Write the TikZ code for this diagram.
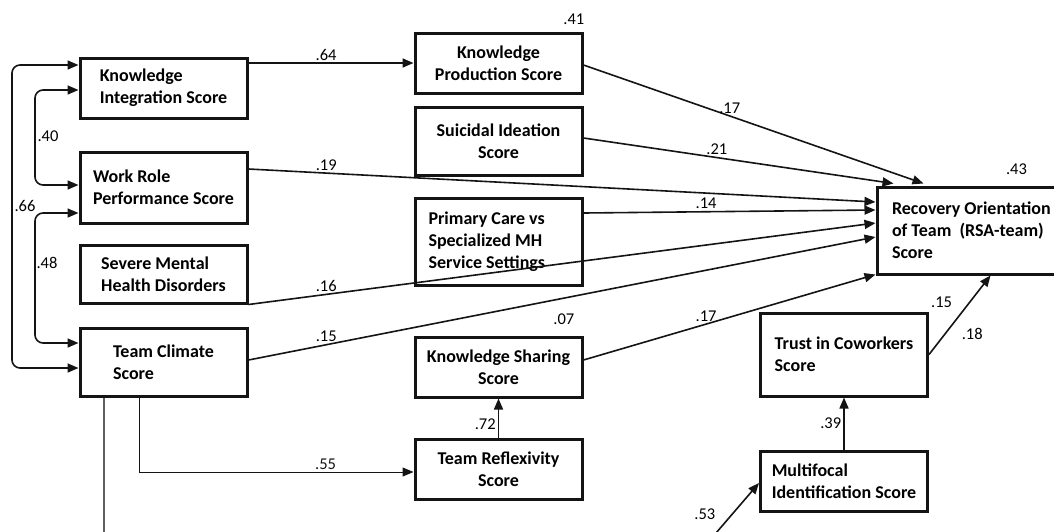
\documentclass[tikz,border=0pt]{standalone}
\usepackage{fontspec}
\setmainfont{Carlito}
\usetikzlibrary{positioning, arrows.meta, calc}
\definecolor{cnegro}{RGB}{20,20,20}
\definecolor{cgris}{RGB}{95,95,95}

\begin{document}
\begin{tikzpicture}[x=1pt, y=-1pt, >={Triangle[length=11pt, width=9pt]},
    var/.style={draw=cnegro, line width=3pt, minimum width=167pt, align=flush left, inner xsep=4pt, font=\fontsize{18}{22}\selectfont\bfseries},
    varc/.style={var, align=center},
    lnk/.style={draw=cnegro, line width=1.6pt},
    coef/.style={font=\fontsize{16.5}{19}\selectfont, inner sep=2pt}]

  \clip (0,0) rectangle (1054,531);

  % predictores (izquierda)
  \node[var, minimum height=60pt] (ki) at (163.5,88) {Knowledge\\Integration Score};
  \node[var, minimum height=71pt] (wr) at (163.5,187.5) {Work Role\\Performance Score};
  \node[var, minimum height=58pt] (smh) at (163.5,274) {Severe Mental\\Health Disorders};
  \node[var, minimum height=68pt] (tc) at (163.5,362) {Team Climate\\Score};

  % columna central
  \node[varc, minimum height=60pt] (kp) at (498.5,63) {Knowledge\\Production Score};
  \node[varc, minimum height=68pt] (si) at (498.5,141) {Suicidal Ideation\\Score};
  \node[var, minimum height=87pt, text width=140pt, inner xsep=13.5pt] (pc) at (498.5,241.5) {Primary Care vs\\Specialized MH\\Service Settings};
  \node[varc, minimum height=60pt] (ks) at (498.5,367) {Knowledge Sharing\\Score};
  \node[varc, minimum height=60pt] (tr) at (498.5,469) {Team Reflexivity\\Score};

  % resultado y confianza
  \node[var, minimum height=87pt, text width=165pt, inner xsep=15pt] (rsa) at (974.5,230.5) {Recovery Orientation\\of Team\ \ (RSA-team)\\Score};
  \node[var, minimum height=83pt] (trust) at (844,354.5) {Trust in Coworkers\\Score};
  \node[var, minimum height=60pt] (mf) at (844,481) {Multifocal\\Identification Score};

  \coordinate (tcdown) at (104,545);
  \coordinate (mfin) at (710,540);

  % covarianzas
  \draw[lnk, <->, rounded corners=8pt] ([yshift=23pt]ki.west) -| (12,200) |- ([yshift=-6pt]tc.west);
  \draw[lnk, <->, rounded corners=8pt] ([yshift=-2pt]ki.west) -| (35,140) |- ([yshift=2.5pt]wr.west);
  \draw[lnk, <->, rounded corners=8pt] ([yshift=-25.5pt]wr.west) -| (35,280) |- ([yshift=19pt]tc.west);
  \node[coef] (c40) at (48,136) {.40};
  \node[coef] (c66) at (25,206) {.66};
  \node[coef] (c48) at (47,263) {.48};

  % trayectorias
  \draw[lnk, ->] ([yshift=25pt]ki.east) -- node[coef, above, pos=0.47]{.64} (kp.west);
  \draw[lnk, ->] ([yshift=-2pt]kp.east) -- node[coef, above, pos=0.43]{.17} ([xshift=48pt, yshift=2pt]rsa.north west);
  \draw[lnk, ->] ([yshift=3pt]si.east) -- node[coef, above, pos=0.43]{.21} ([xshift=18pt, yshift=2pt]rsa.north west);
  \draw[lnk, ->] ([yshift=18.5pt]wr.east) -- node[coef, above, pos=0.124]{.19} ([yshift=28.5pt]rsa.west);
  \draw[lnk, ->] ([yshift=28.5pt]pc.east) -- node[coef, above, pos=0.42]{.14} ([yshift=20.5pt]rsa.west);
  \draw[lnk, ->] (smh.south east) -- node[coef, above, pos=0.124]{.16} ([yshift=7.5pt]rsa.west);
  \draw[lnk, ->] ([yshift=2pt]tc.east) -- node[coef, above, pos=0.124]{.15} ([yshift=-6.5pt]rsa.west);
  \draw[lnk, ->] ([yshift=7pt]ks.east) -- node[coef, above, pos=0.42]{.17} ([yshift=1pt]rsa.south west);
  \draw[lnk, ->] (tr.north) -- node[coef, left, pos=0.35]{.72} (ks.south);
  \draw[lnk, ->] (mf.north) -- node[coef, left]{.39} (trust.south);
  \draw[lnk, ->] (trust.east) -- node[coef, right, pos=0.26, xshift=14pt]{.18} ([xshift=115pt]rsa.south west);
  \draw[lnk, ->] (mfin) -- node[coef, left, pos=0.45, xshift=-14pt]{.53} ([yshift=-2pt]mf.west);
  \draw[cnegro, line width=1pt, ->] ([xshift=-24.5pt]tc.south) |- node[coef, above, pos=0.84]{.55} ([yshift=-3pt]tr.west);
  \draw[cgris, line width=1.2pt] ([xshift=-59.5pt]tc.south) -- (tcdown);

  % R cuadrado
  \node[coef, anchor=south east, xshift=3pt, yshift=5pt] (r2kp) at (kp.north east) {.41};
  \node[coef, anchor=south east, xshift=-7pt, yshift=9pt] (r2ks) at (ks.north east) {.07};
  \node[coef, anchor=south, yshift=9pt] (r2rsa) at ([xshift=141pt]rsa.north west) {.43};
  \node[coef, anchor=south west, yshift=2pt] (r2tr) at (trust.north east) {.15};
\end{tikzpicture}
\end{document}
